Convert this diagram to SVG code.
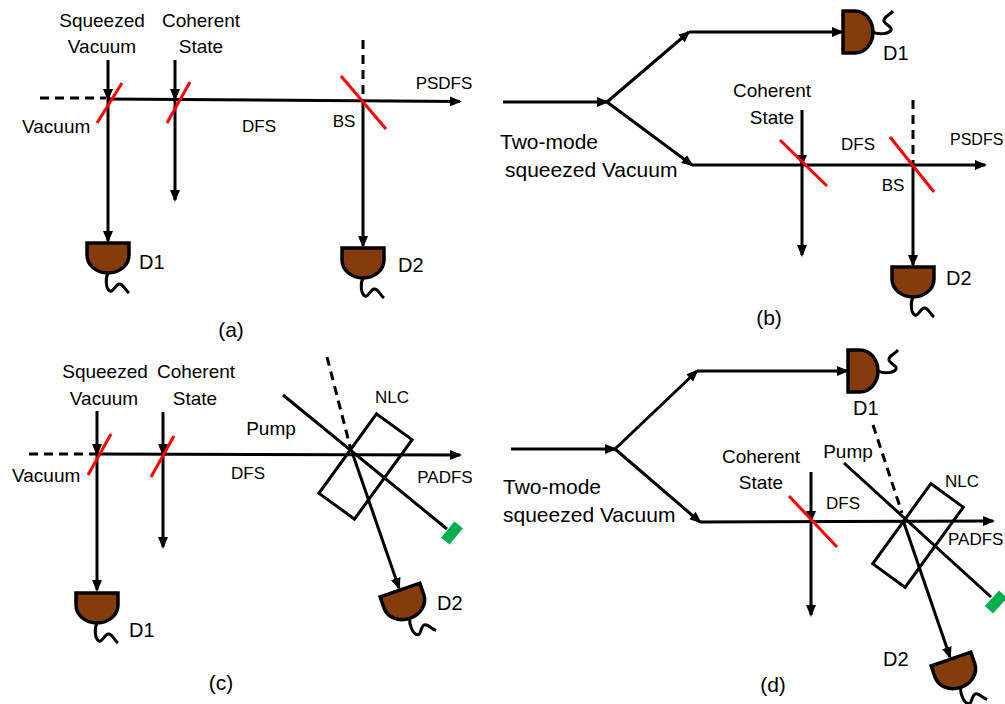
<svg xmlns="http://www.w3.org/2000/svg" xmlns:xlink="http://www.w3.org/1999/xlink" width="1005" height="704" viewBox="0 0 1005 704">
<style>
.b{stroke:#000;stroke-width:3;fill:none}
.d{stroke-dasharray:9 6}
.m{stroke:#ff0000;stroke-width:3;fill:none}
.t{font-family:"Liberation Sans",Arial,sans-serif;font-size:19px;fill:#000}
.s{font-size:17px}
.l{font-size:20px}
.w{font-size:21px}
.c{text-anchor:middle}
.nlc{stroke:#000;stroke-width:3;fill:none}
.dump{fill:#00b050}
</style>
<defs>
<marker id="ah" viewBox="0 0 12 10" markerWidth="12" markerHeight="10" refX="10" refY="5" orient="auto" markerUnits="userSpaceOnUse">
<path d="M0,0 L12,5 L0,10 z" fill="#000"/>
</marker>
<g id="det">
<path d="M-21,0 H21 V12 A21,18 0 0 1 -21,12 Z" fill="#843c0c" stroke="#000" stroke-width="3.5"/>
<path d="M0,30 C-3,36 -2,46 2,48 C5,50 7,42 11,41 C15,40 16,46 21,50" fill="none" stroke="#000" stroke-width="3"/>
</g>
</defs>
<rect width="1005" height="704" fill="#fff"/>

<g id="connectors">
<!-- (a) -->
<line class="b d" x1="40" y1="98" x2="106" y2="98"/>
<line class="b" x1="108" y1="99" x2="460" y2="101.5" marker-end="url(#ah)"/>
<line class="b" x1="108" y1="60" x2="108" y2="99" marker-end="url(#ah)"/>
<line class="b" x1="108" y1="99" x2="108" y2="241" marker-end="url(#ah)"/>
<line class="b" x1="175" y1="60" x2="175" y2="99" marker-end="url(#ah)"/>
<line class="b" x1="175" y1="99" x2="175" y2="200" marker-end="url(#ah)"/>
<line class="b d" x1="363" y1="40" x2="363" y2="99"/>
<line class="b" x1="363" y1="101" x2="363" y2="246" marker-end="url(#ah)"/>
<!-- (b) -->
<line class="b" x1="503" y1="102" x2="607" y2="102" marker-end="url(#ah)"/>
<line class="b" x1="607" y1="102" x2="689" y2="32" marker-end="url(#ah)"/>
<line class="b" x1="689" y1="32" x2="842" y2="32" marker-end="url(#ah)"/>
<line class="b" x1="607" y1="102" x2="692" y2="165" marker-end="url(#ah)"/>
<line class="b" x1="692" y1="165" x2="985" y2="165" marker-end="url(#ah)"/>
<line class="b" x1="802" y1="110" x2="802" y2="165" marker-end="url(#ah)"/>
<line class="b" x1="802" y1="165" x2="802" y2="255" marker-end="url(#ah)"/>
<line class="b d" x1="913" y1="100" x2="913" y2="165"/>
<line class="b" x1="913" y1="165" x2="913" y2="265" marker-end="url(#ah)"/>
<!-- (c) -->
<line class="b d" x1="29" y1="454" x2="96" y2="454"/>
<line class="b" x1="97" y1="454" x2="460" y2="455" marker-end="url(#ah)"/>
<line class="b" x1="97" y1="411" x2="97" y2="454" marker-end="url(#ah)"/>
<line class="b" x1="97" y1="454" x2="97" y2="590" marker-end="url(#ah)"/>
<line class="b" x1="163" y1="412" x2="163" y2="454" marker-end="url(#ah)"/>
<line class="b" x1="163" y1="454" x2="163" y2="547" marker-end="url(#ah)"/>
<line class="b" x1="283" y1="395" x2="447" y2="529"/>
<line class="b d" x1="327" y1="357" x2="351" y2="450"/>
<line class="b" x1="352" y1="452" x2="399" y2="588" marker-end="url(#ah)"/>
<!-- (d) -->
<line class="b" x1="511" y1="449" x2="615" y2="449" marker-end="url(#ah)"/>
<line class="b" x1="615" y1="449" x2="697" y2="371" marker-end="url(#ah)"/>
<line class="b" x1="697" y1="371" x2="847" y2="371" marker-end="url(#ah)"/>
<line class="b" x1="615" y1="449" x2="700" y2="522" marker-end="url(#ah)"/>
<line class="b" x1="700" y1="522" x2="993" y2="521" marker-end="url(#ah)"/>
<line class="b" x1="811" y1="472" x2="811" y2="521" marker-end="url(#ah)"/>
<line class="b" x1="811" y1="521" x2="811" y2="615" marker-end="url(#ah)"/>
<line class="b" x1="844" y1="463" x2="991" y2="597"/>
<line class="b d" x1="873" y1="425" x2="902" y2="513"/>
<line class="b" x1="903" y1="520" x2="950" y2="657" marker-end="url(#ah)"/>
</g>

<!-- (a) nodes -->
<g id="a-mirror1"><line class="m" x1="97" y1="123" x2="122" y2="83"/></g>
<g id="a-mirror2"><line class="m" x1="167" y1="123" x2="190" y2="82"/></g>
<g id="a-bs"><line class="m" x1="341" y1="76" x2="386" y2="129"/></g>
<g id="a-d1"><use xlink:href="#det" transform="translate(108,243)"/><text class="t l" x="139" y="269">D1</text></g>
<g id="a-d2"><use xlink:href="#det" transform="translate(363,248)"/><text class="t l" x="398" y="272">D2</text></g>
<g id="a-labels">
<text class="t c" x="102" y="27">Squeezed</text>
<text class="t c" x="102" y="53">Vacuum</text>
<text class="t c" x="201" y="27">Coherent</text>
<text class="t c" x="201" y="53">State</text>
<text class="t" x="22" y="133">Vacuum</text>
<text class="t s c" x="259" y="132">DFS</text>
<text class="t s c" x="344" y="127">BS</text>
<text class="t s c" x="444" y="89">PSDFS</text>
<text class="t w c" x="231" y="337">(a)</text>
</g>

<!-- (b) nodes -->
<g id="b-mirror"><line class="m" x1="780" y1="140" x2="827" y2="186"/></g>
<g id="b-bs"><line class="m" x1="890" y1="137" x2="934" y2="192"/></g>
<g id="b-d1"><use xlink:href="#det" transform="translate(843,32) rotate(-90)"/><text class="t l" x="883" y="60">D1</text></g>
<g id="b-d2"><use xlink:href="#det" transform="translate(913,267)"/><text class="t l" x="946" y="285">D2</text></g>
<g id="b-labels">
<text class="t w" x="500" y="149">Two-mode</text>
<text class="t w" x="505" y="177">squeezed Vacuum</text>
<text class="t c" x="772" y="97">Coherent</text>
<text class="t c" x="772" y="124">State</text>
<text class="t s c" x="858" y="150">DFS</text>
<text class="t s c" x="893" y="191">BS</text>
<text class="t" style="font-size:16px" x="950" y="145">PSDFS</text>
<text class="t w c" x="769" y="325">(b)</text>
</g>

<!-- (c) nodes -->
<g id="c-mirror1"><line class="m" x1="88" y1="475" x2="111" y2="434"/></g>
<g id="c-mirror2"><line class="m" x1="151" y1="477" x2="174" y2="436"/></g>
<g id="c-nlc"><rect class="nlc" x="-22" y="-49" width="44" height="98" transform="translate(365.5,466.5) rotate(36)"/><text class="t s c" x="392" y="403">NLC</text></g>
<g id="c-dump"><rect class="dump" x="-5.5" y="-10.5" width="11" height="21" transform="translate(452,533) rotate(39.3)"/></g>
<g id="c-d1"><use xlink:href="#det" transform="translate(97,593)"/><text class="t l" x="129" y="637">D1</text></g>
<g id="c-d2"><use xlink:href="#det" transform="translate(400,590) rotate(-19)"/><text class="t l" x="437" y="610">D2</text></g>
<g id="c-labels">
<text class="t c" x="105" y="378">Squeezed</text>
<text class="t c" x="196" y="378">Coherent</text>
<text class="t c" x="104" y="405">Vacuum</text>
<text class="t c" x="195" y="405">State</text>
<text class="t" x="12" y="482">Vacuum</text>
<text class="t s c" x="248" y="479">DFS</text>
<text class="t c" x="271" y="435">Pump</text>
<text class="t s c" x="445" y="483">PADFS</text>
<text class="t w c" x="221" y="690">(c)</text>
</g>

<!-- (d) nodes -->
<g id="d-mirror"><line class="m" x1="789" y1="496" x2="837" y2="547"/></g>
<g id="d-nlc"><rect class="nlc" x="-20" y="-49.5" width="40" height="99" transform="translate(918,535.5) rotate(36)"/><text class="t s" x="945" y="487">NLC</text></g>
<g id="d-dump"><rect class="dump" x="-5.5" y="-10.5" width="11" height="21" transform="translate(996,602) rotate(42.4)"/></g>
<g id="d-d1"><use xlink:href="#det" transform="translate(848,371) rotate(-90)"/><text class="t l" x="853" y="415">D1</text></g>
<g id="d-d2"><use xlink:href="#det" transform="translate(951,659) rotate(-19)"/><text class="t l" x="883" y="666">D2</text></g>
<g id="d-labels">
<text class="t w" x="503" y="494">Two-mode</text>
<text class="t w" x="503" y="522">squeezed Vacuum</text>
<text class="t c" x="761" y="463">Coherent</text>
<text class="t c" x="761" y="489">State</text>
<text class="t s c" x="843" y="509">DFS</text>
<text class="t c" x="848" y="458">Pump</text>
<text class="t s" x="948" y="545">PADFS</text>
<text class="t w c" x="773" y="692">(d)</text>
</g>
</svg>
